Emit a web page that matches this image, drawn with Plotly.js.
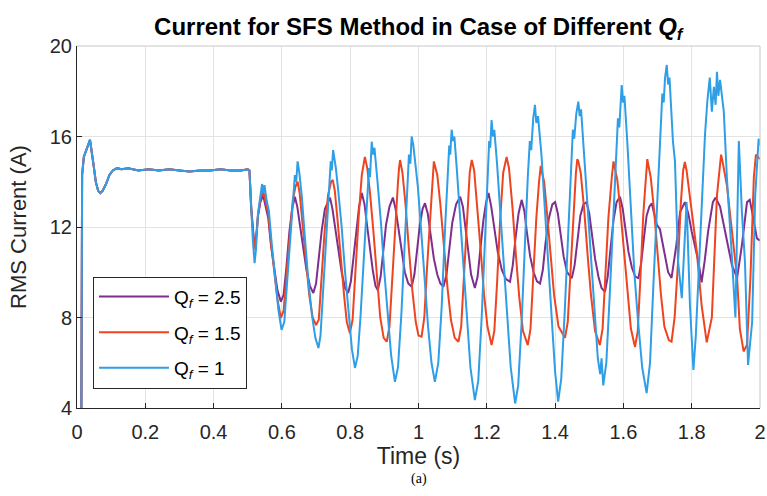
<!DOCTYPE html>
<html>
<head>
<meta charset="utf-8">
<script src="https://cdn.plot.ly/plotly-3.0.1.min.js"></script>
<style>
  html, body { margin: 0; padding: 0; background: #ffffff; }
  #chart { width: 767px; height: 496px; }
</style>
</head>
<body>
<div id="chart"></div>
<script>
// ---- Data ----
// Shared start-up segment (all three cases overlap before the islanding at t ~ 0.5 s)
var startTime = [0.012, 0.015, 0.02, 0.026, 0.032, 0.038, 0.042, 0.048, 0.055, 0.062, 0.068, 0.075, 0.085, 0.095, 0.105, 0.117, 0.13, 0.15, 0.18, 0.21, 0.24, 0.27, 0.30, 0.33, 0.36, 0.39, 0.42, 0.45, 0.48, 0.50];
var startCurrent = [0, 14.3, 15.1, 15.4, 15.6, 15.85, 15.5, 14.8, 14.0, 13.6, 13.5, 13.6, 13.9, 14.3, 14.5, 14.6, 14.55, 14.6, 14.5, 14.55, 14.5, 14.55, 14.5, 14.45, 14.5, 14.5, 14.55, 14.5, 14.5, 14.55];

// Qf = 2.5
var timeQ25 = [0.505, 0.51, 0.517, 0.522, 0.53, 0.537, 0.545, 0.552, 0.56, 0.568, 0.577, 0.587, 0.597, 0.605, 0.613, 0.622, 0.63, 0.638, 0.645, 0.654, 0.663, 0.672, 0.682, 0.692, 0.7, 0.708, 0.717, 0.726, 0.734, 0.741, 0.748, 0.757, 0.766, 0.775, 0.785, 0.794, 0.802, 0.81, 0.818, 0.826, 0.834, 0.842, 0.85, 0.858, 0.866, 0.874, 0.881, 0.889, 0.897, 0.905, 0.915, 0.925, 0.933, 0.942, 0.951, 0.96, 0.97, 0.98, 0.988, 0.996, 1.004, 1.012, 1.019, 1.027, 1.036, 1.045, 1.055, 1.064, 1.073, 1.082, 1.09, 1.099, 1.11, 1.122, 1.13, 1.138, 1.146, 1.154, 1.165, 1.173, 1.181, 1.19, 1.198, 1.205, 1.213, 1.222, 1.232, 1.244, 1.256, 1.268, 1.276, 1.284, 1.293, 1.302, 1.31, 1.318, 1.327, 1.337, 1.347, 1.356, 1.364, 1.372, 1.382, 1.392, 1.40, 1.408, 1.416, 1.425, 1.435, 1.449, 1.457, 1.465, 1.474, 1.483, 1.492, 1.50, 1.508, 1.517, 1.527, 1.536, 1.546, 1.554, 1.562, 1.571, 1.58, 1.59, 1.598, 1.606, 1.615, 1.625, 1.635, 1.644, 1.652, 1.66, 1.668, 1.676, 1.683, 1.69, 1.698, 1.707, 1.72, 1.731, 1.741, 1.755, 1.766, 1.78, 1.79, 1.80, 1.82, 1.829, 1.838, 1.848, 1.862, 1.87, 1.883, 1.903, 1.918, 1.933, 1.947, 1.962, 1.97, 1.977, 1.991, 2.0];
var currentQ25 = [14.5, 12.9, 11.6, 11.1, 12.5, 13.1, 13.4, 12.9, 12.4, 11.2, 10.2, 9.2, 8.7, 9.0, 10.2, 11.8, 12.8, 13.34, 12.9, 12.0, 11.0, 10.1, 9.4, 9.08, 9.5, 10.6, 11.9, 12.8, 13.1, 13.3, 12.8, 11.9, 11.0, 10.0, 9.3, 9.08, 9.6, 10.8, 12.0, 12.9, 13.5, 13.0, 12.0, 11.0, 10.1, 9.4, 9.2, 9.8, 11.0, 12.1, 12.9, 13.3, 12.8, 11.8, 10.8, 10.0, 9.5, 9.36, 9.9, 11.0, 12.1, 12.8, 13.05, 12.6, 11.6, 10.6, 9.9, 9.5, 9.36, 9.9, 11.0, 12.2, 13.0, 13.34, 12.9, 11.8, 10.7, 9.9, 9.3, 9.8, 11.0, 12.3, 13.1, 13.5, 12.9, 11.9, 10.9, 10.1, 9.7, 9.58, 10.3, 11.5, 12.6, 13.2, 12.7, 11.7, 10.7, 10.0, 9.6, 9.5, 10.1, 11.3, 12.4, 13.0, 13.1, 12.6, 11.6, 10.7, 10.0, 9.74, 10.3, 11.4, 12.5, 13.0, 13.1, 12.6, 11.6, 10.6, 9.8, 9.3, 9.14, 9.8, 11.0, 12.3, 13.1, 13.34, 12.8, 11.8, 10.9, 10.2, 9.8, 9.74, 10.4, 11.5, 12.5, 12.9, 13.05, 12.6, 12.1, 11.9, 10.8, 10.0, 9.75, 11.2, 12.66, 13.1, 12.6, 11.8, 10.45, 9.55, 10.5, 11.8, 13.1, 13.3, 12.9, 11.5, 10.3, 9.75, 11.2, 13.1, 13.2, 12.66, 11.5, 11.4];

// Qf = 1.5
var timeQ15 = [0.505, 0.51, 0.517, 0.522, 0.53, 0.537, 0.545, 0.552, 0.56, 0.568, 0.577, 0.587, 0.597, 0.605, 0.613, 0.622, 0.632, 0.64, 0.646, 0.652, 0.66, 0.67, 0.68, 0.69, 0.70, 0.708, 0.716, 0.725, 0.735, 0.744, 0.749, 0.755, 0.763, 0.772, 0.782, 0.79, 0.799, 0.807, 0.815, 0.825, 0.834, 0.839, 0.843, 0.85, 0.858, 0.868, 0.878, 0.888, 0.898, 0.907, 0.915, 0.923, 0.932, 0.94, 0.943, 0.946, 0.953, 0.962, 0.972, 0.982, 0.992, 1.0, 1.009, 1.017, 1.025, 1.034, 1.042, 1.045, 1.048, 1.055, 1.064, 1.074, 1.085, 1.095, 1.106, 1.117, 1.125, 1.133, 1.142, 1.15, 1.153, 1.156, 1.163, 1.172, 1.182, 1.192, 1.202, 1.214, 1.222, 1.23, 1.239, 1.248, 1.253, 1.258, 1.265, 1.275, 1.285, 1.295, 1.306, 1.32, 1.328, 1.336, 1.345, 1.353, 1.358, 1.361, 1.368, 1.377, 1.387, 1.397, 1.41, 1.429, 1.437, 1.445, 1.453, 1.461, 1.465, 1.468, 1.475, 1.485, 1.495, 1.505, 1.517, 1.531, 1.539, 1.547, 1.556, 1.566, 1.571, 1.575, 1.582, 1.592, 1.602, 1.612, 1.622, 1.634, 1.642, 1.65, 1.658, 1.666, 1.67, 1.673, 1.68, 1.69, 1.70, 1.71, 1.72, 1.733, 1.741, 1.75, 1.76, 1.768, 1.775, 1.78, 1.785, 1.80, 1.815, 1.829, 1.844, 1.859, 1.866, 1.874, 1.882, 1.886, 1.889, 1.895, 1.903, 1.918, 1.933, 1.941, 1.952, 1.962, 1.972, 1.982, 1.988, 2.0];
var currentQ15 = [14.5, 12.8, 11.5, 11.0, 12.5, 13.2, 13.6, 13.1, 12.6, 11.3, 10.2, 8.8, 7.98, 8.3, 9.8, 11.6, 13.2, 13.8, 14.0, 13.5, 12.3, 10.5, 9.0, 8.0, 7.67, 7.9, 9.8, 11.8, 13.4, 14.0, 14.08, 13.6, 12.3, 10.6, 9.0, 7.8, 7.31, 7.9, 10.0, 12.5, 14.3, 14.7, 15.1, 14.6, 13.5, 11.8, 9.8, 8.0, 7.1, 6.93, 7.6, 9.8, 12.3, 14.0, 14.6, 14.96, 14.4, 13.0, 11.0, 9.2, 7.8, 7.2, 7.15, 8.0, 10.2, 12.6, 14.2, 14.9, 14.7, 14.3, 13.0, 11.2, 9.3, 7.9, 7.1, 6.93, 7.6, 9.8, 12.5, 14.4, 14.7, 14.96, 14.5, 13.0, 11.0, 9.0, 7.6, 6.78, 7.4, 9.5, 12.3, 14.4, 14.8, 15.1, 14.6, 12.9, 10.8, 8.9, 7.4, 6.78, 7.5, 9.8, 12.4, 14.0, 14.7, 14.45, 14.0, 12.5, 10.6, 9.0, 7.6, 7.1, 7.8, 10.0, 12.8, 14.4, 15.0, 14.9, 14.4, 12.8, 10.8, 9.0, 7.4, 6.78, 7.5, 9.8, 12.4, 14.2, 14.9, 14.6, 14.1, 12.6, 10.8, 9.0, 7.5, 6.7, 7.4, 9.8, 12.5, 14.2, 15.0, 14.74, 14.2, 12.7, 10.8, 9.0, 7.6, 7.0, 6.93, 8.0, 10.45, 13.0, 14.5, 14.87, 14.5, 12.66, 10.9, 8.55, 6.9, 8.0, 10.5, 13.4, 14.6, 15.2, 15.0, 14.5, 13.85, 11.8, 9.75, 7.5, 6.5, 6.8, 9.75, 14.2, 15.2, 15.0];

// Qf = 1
var timeQ1 = [0.505, 0.51, 0.515, 0.52, 0.524, 0.53, 0.537, 0.542, 0.545, 0.549, 0.555, 0.562, 0.57, 0.58, 0.59, 0.599, 0.607, 0.615, 0.625, 0.633, 0.638, 0.642, 0.646, 0.651, 0.658, 0.667, 0.677, 0.688, 0.698, 0.707, 0.713, 0.72, 0.73, 0.738, 0.743, 0.746, 0.75, 0.754, 0.758, 0.765, 0.775, 0.785, 0.795, 0.805, 0.814, 0.822, 0.83, 0.84, 0.85, 0.855, 0.858, 0.863, 0.867, 0.871, 0.88, 0.89, 0.90, 0.91, 0.92, 0.931, 0.94, 0.95, 0.96, 0.968, 0.972, 0.976, 0.98, 0.985, 0.99, 0.998, 1.008, 1.018, 1.028, 1.038, 1.048, 1.058, 1.068, 1.078, 1.086, 1.09, 1.093, 1.097, 1.101, 1.105, 1.112, 1.122, 1.132, 1.142, 1.152, 1.165, 1.175, 1.185, 1.195, 1.203, 1.207, 1.21, 1.214, 1.218, 1.222, 1.23, 1.24, 1.25, 1.26, 1.27, 1.283, 1.292, 1.302, 1.312, 1.32, 1.326, 1.33, 1.336, 1.341, 1.345, 1.35, 1.36, 1.37, 1.38, 1.39, 1.40, 1.409, 1.418, 1.428, 1.438, 1.446, 1.452, 1.456, 1.462, 1.468, 1.472, 1.476, 1.485, 1.495, 1.505, 1.515, 1.525, 1.532, 1.536, 1.541, 1.55, 1.56, 1.57, 1.578, 1.584, 1.588, 1.592, 1.595, 1.599, 1.603, 1.612, 1.622, 1.632, 1.642, 1.655, 1.668, 1.678, 1.688, 1.698, 1.706, 1.71, 1.714, 1.718, 1.722, 1.727, 1.731, 1.735, 1.74, 1.745, 1.751, 1.76, 1.771, 1.785, 1.795, 1.805, 1.812, 1.824, 1.839, 1.846, 1.853, 1.859, 1.865, 1.87, 1.874, 1.878, 1.883, 1.894, 1.903, 1.918, 1.928, 1.938, 1.947, 1.956, 1.965, 1.977, 1.986, 1.996, 2.0];
var currentQ1 = [14.5, 12.6, 11.4, 10.4, 11.0, 12.6, 13.3, 13.9, 13.5, 13.85, 13.2, 12.7, 11.3, 9.8, 8.3, 7.45, 7.8, 9.5, 11.8, 13.3, 14.3, 14.0, 14.9, 14.4, 13.4, 11.6, 9.7, 8.1, 7.1, 6.65, 7.2, 9.0, 11.5, 13.8, 14.9, 14.5, 15.4, 15.0, 14.6, 13.6, 12.0, 10.0, 8.2, 6.6, 5.77, 6.3, 8.0, 10.5, 13.2, 14.6, 14.2, 15.77, 15.2, 15.5, 14.0, 12.2, 10.0, 8.0, 6.3, 5.16, 5.8, 8.2, 11.5, 13.8, 15.2, 14.8, 16.0, 15.6, 15.0, 13.8, 11.8, 9.6, 7.6, 6.0, 5.16, 6.0, 8.5, 12.0, 14.5, 15.6, 15.2, 16.3, 15.8, 16.0, 14.6, 12.3, 10.0, 7.8, 5.8, 4.35, 5.2, 8.0, 11.8, 14.8, 15.8, 15.5, 16.73, 16.0, 16.3, 14.8, 12.5, 10.0, 7.8, 5.8, 4.2, 5.0, 7.8, 11.5, 14.2, 15.8, 15.4, 16.8, 17.4, 16.6, 16.9, 15.2, 12.8, 10.2, 7.8, 5.6, 4.28, 5.3, 8.2, 11.8, 14.8, 16.3, 15.9, 17.0, 17.54, 16.9, 17.2, 15.2, 12.8, 10.5, 8.2, 6.2, 5.5, 6.2, 5.0, 6.0, 9.0, 12.5, 15.2, 16.8, 16.4, 17.8, 18.27, 17.5, 17.8, 15.6, 12.8, 10.0, 8.0, 5.8, 4.66, 6.0, 9.5, 13.0, 15.8, 16.5, 17.9, 17.5, 18.6, 19.16, 18.3, 18.6, 17.2, 15.8, 14.9, 10.5, 8.85, 13.1, 8.5, 5.68, 7.2, 11.2, 16.1, 17.6, 18.6, 17.1, 18.2, 17.4, 18.86, 17.8, 18.5, 17.1, 14.2, 10.6, 8.0, 15.8, 12.66, 10.45, 5.9, 7.8, 13.4, 15.9, 15.6];

var seriesNames = ['Q<sub><i>f</i></sub> = 2.5', 'Q<sub><i>f</i></sub> = 1.5', 'Q<sub><i>f</i></sub> = 1'];
var xTickVals = [0, 0.2, 0.4, 0.6, 0.8, 1, 1.2, 1.4, 1.6, 1.8, 2];
var xTickText = ['0', '0.2', '0.4', '0.6', '0.8', '1', '1.2', '1.4', '1.6', '1.8', '2'];
var yTickVals = [4, 8, 12, 16, 20];
var yTickText = ['4', '8', '12', '16', '20'];

// ---- Styles ----
var colors = ['#7E2F8E', '#EE4420', '#2E9EE6'];
var axisGray = '#262626';
var font = 'Liberation Sans, Arial, Helvetica, sans-serif';

function mk(i, tArr, vArr) {
  return {
    type: 'scatter', mode: 'lines',
    x: startTime.concat(tArr), y: startCurrent.concat(vArr),
    name: seriesNames[i], legendgroup: 'g' + i,
    line: { color: colors[i], width: 2 },
    hoverinfo: 'x+y+name'
  };
}

var data = [mk(0, timeQ25, currentQ25), mk(1, timeQ15, currentQ15), mk(2, timeQ1, currentQ1)];

var layout = {
  width: 767, height: 496,
  margin: { l: 77, r: 7, t: 46, b: 88 },
  paper_bgcolor: '#ffffff', plot_bgcolor: '#ffffff',
  font: { family: font, color: axisGray, size: 20 },
  title: {
    text: '<b>Current for SFS Method in Case of Different <i>Q</i><sub><i>f</i></sub></b>',
    font: { family: font, size: 24, color: '#000000' },
    x: 0.5453, xanchor: 'center', y: 0.946, yanchor: 'middle'
  },
  xaxis: {
    range: [0, 2], tickvals: xTickVals, ticktext: xTickText,
    showgrid: true, gridcolor: '#e3e3e3', gridwidth: 1,
    showline: true, linecolor: axisGray, linewidth: 1,
    ticks: 'inside', ticklen: 5, tickcolor: axisGray, ticklabelstandoff: 6,
    zeroline: false, tickfont: { size: 20, color: axisGray, family: font },
    title: { text: 'Time (s)', font: { size: 23, color: axisGray, family: font }, standoff: 1 },
    automargin: false
  },
  yaxis: {
    range: [4, 20], tickvals: yTickVals, ticktext: yTickText,
    showgrid: true, gridcolor: '#e3e3e3', gridwidth: 1,
    showline: true, linecolor: axisGray, linewidth: 1,
    ticks: 'inside', ticklen: 5, tickcolor: axisGray,
    zeroline: false, tickfont: { size: 20, color: axisGray, family: font },
    title: { text: 'RMS Current (A)', font: { size: 22, color: axisGray, family: font }, standoff: 17 },
    automargin: false
  },
  showlegend: true,
  legend: {
    x: 0.0234, y: 0.363, xanchor: 'left', yanchor: 'top',
    bgcolor: '#ffffff', bordercolor: axisGray, borderwidth: 1,
    font: { size: 19, color: '#000000', family: font },
    tracegroupgap: 8, itemwidth: 70
  },
  shapes: [
    { type: 'line', xref: 'paper', yref: 'paper', x0: 0, x1: 1, y0: 1, y1: 1, line: { color: '#c8c8c8', width: 1 } },
    { type: 'line', xref: 'paper', yref: 'paper', x0: 1, x1: 1, y0: 0, y1: 1, line: { color: '#c8c8c8', width: 1 } }
  ],
  annotations: [
    { text: '(a)', xref: 'paper', yref: 'paper', x: 0.5, y: -0.197, xanchor: 'center', yanchor: 'middle', showarrow: false,
      font: { family: 'Liberation Serif, Times New Roman, serif', size: 14, color: '#000000' } }
  ]
};

Plotly.newPlot('chart', data, layout, { displayModeBar: false, staticPlot: true });
</script>
</body>
</html>
